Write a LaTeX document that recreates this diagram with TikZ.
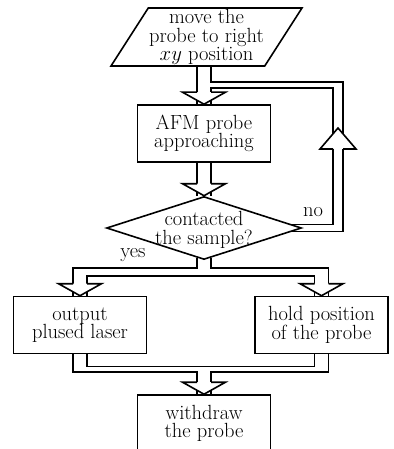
\documentclass[tikz,border=0pt]{standalone}
\usetikzlibrary{shapes.geometric, calc}

\begin{document}
\begin{tikzpicture}[
    x=1pt, y=-1pt,
    font=\fontsize{20.5}{18.5}\selectfont,
    pipe/.style={draw=black, line width=1.6pt},
    proc/.style={
      rectangle, draw, line width=1.6pt, align=center,
      minimum width=133pt, minimum height=57pt, inner sep=2pt
    },
    io/.style={
      trapezium, trapezium left angle=56, trapezium right angle=124,
      trapezium stretches body, draw, line width=1.6pt, align=center,
      minimum width=191pt, minimum height=58pt, inner sep=0pt
    },
    test/.style={
      diamond, draw, line width=1.6pt,
      minimum width=195pt, minimum height=63pt, inner sep=0pt
    },
    headdown/.pic={
      \filldraw[pipe, fill=white] (-7,-12) -- (-21.5,-12) -- (0,0) -- (21.5,-12) -- (7,-12);
    },
    headup/.pic={
      \filldraw[pipe, fill=white] (-5,21) -- (-18,21) -- (0,0) -- (18,21) -- (5,21);
    }
  ]
    \useasboundingbox (0,0) rectangle (393,449);

    \node[io] (move) at (206.5,37) {move the\\probe to right\\$xy$ position};
    \node[proc] (approach) at (204,133.5) {AFM probe\\approaching};
    \node[test, label={[align=center, yshift=-2pt]center:contacted\\the sample?}] (contact) at (204,228) {};
    \node[proc] (laser) at (80,325) {output\\plused laser};
    \node[proc] (hold) at (321.5,325) {hold position\\of the probe};
    \node[proc] (withdraw) at (204,423.5) {withdraw\\the probe};

    \node (no) at (313,212) {no};
    \node (yes) at (133,255) {yes};
    \coordinate (loop) at (338,128);

    % way down to the probe
    \draw[pipe] ($(approach.north)+(-7,0)$) -- ($(move.south -| approach.north)+(-7,0)$);
    \draw[pipe] ($(move.south -| approach.north)+(7,0)$) |- ($(loop)+(5,-46)$) |- ($(contact.east)+(-11,3.5)$);
    \draw[pipe] ($(contact.east)+(-11,-3.5)$) -| ($(loop)+(-5,-40)$) -| ($(approach.north)+(7,0)$);
    \draw[pipe] ($(approach.south)+(-7,0)$) -- ($(contact.north)+(-7,0)$);
    \draw[pipe] ($(approach.south)+(7,0)$) -- ($(contact.north)+(7,0)$);

    % split after contact
    \draw[pipe] ($(contact.south)+(-7,-2.3)$) |- ($(laser.north)+(-7,-28)$) -- ($(laser.north)+(-7,0)$);
    \draw[pipe] ($(contact.south)+(7,-2.3)$) |- ($(hold.north)+(7,-28)$) -- ($(hold.north)+(7,0)$);
    \draw[pipe] ($(laser.north)+(7,0)$) |- ($(hold.north)+(-7,-20)$) -- ($(hold.north)+(-7,0)$);

    % merge to withdraw
    \draw[pipe] ($(laser.south)+(7,0)$) |- ($(hold.south)+(-7,12)$) -- ($(hold.south)+(-7,0)$);
    \draw[pipe] ($(laser.south)+(-7,0)$) |- ($(withdraw.north)+(-7,-22)$) -- ($(withdraw.north)+(-7,0)$);
    \draw[pipe] ($(hold.south)+(7,0)$) |- ($(withdraw.north)+(7,-22)$) -- ($(withdraw.north)+(7,0)$);

    \pic at (approach.north) {headdown};
    \pic at (contact.north) {headdown};
    \pic at (laser.north) {headdown};
    \pic at (hold.north) {headdown};
    \pic at (withdraw.north) {headdown};
    \pic at (loop) {headup};
  \end{tikzpicture}
\end{document}
